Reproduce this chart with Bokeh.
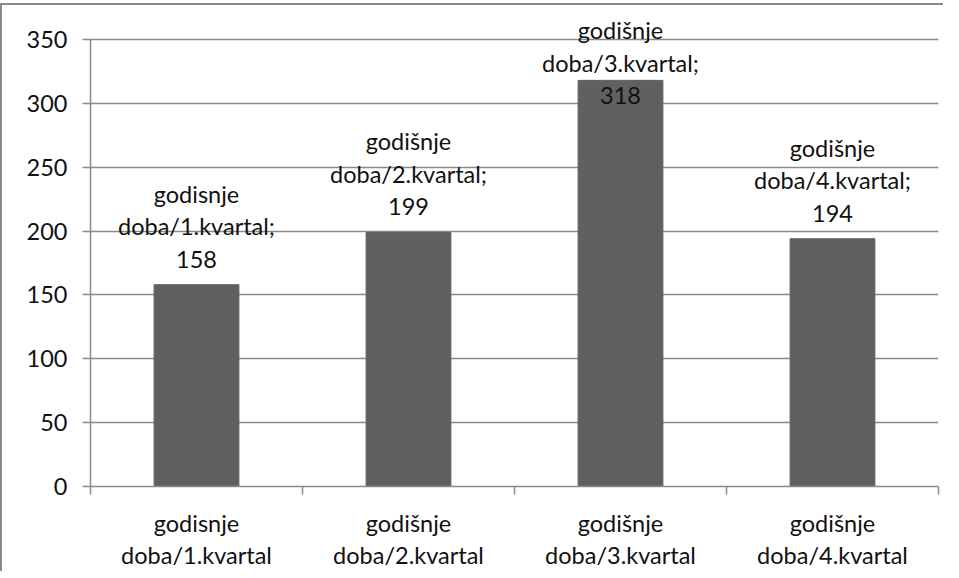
from bokeh.plotting import figure
from bokeh.models import ColumnDataSource, Range1d, FixedTicker
from bokeh.core.properties import value
from bokeh.embed import file_html
from bokeh.resources import INLINE

# ---- data ----
categories = ["godisnje\ndoba/1.kvartal", "godišnje\ndoba/2.kvartal",
              "godišnje\ndoba/3.kvartal", "godišnje\ndoba/4.kvartal"]
values = [158, 199, 318, 194]
y_ticks = [0, 50, 100, 150, 200, 250, 300, 350]

# ---- style / layout ----
FONT = "Lato"
FS = "23.5px"
LH = 1.16
BAR = "#606060"
GRID = "#8a8a8a"
Y_MAX = 350
FRAME_W = 848
FRAME_PX = 473          # frame height (px)
AXIS_PX = 447           # px from 0 to 350
Y_END = Y_MAX * FRAME_PX / AXIS_PX
LABEL_CAP = 286         # data labels may not rise above this

xc = [i + 0.5 for i in range(len(categories))]
labels = [f"{c};\n{v}" for c, v in zip(categories, values)]
label_y = [min(v, LABEL_CAP) for v in values]

src = ColumnDataSource(dict(x=xc, top=values, lab=labels, ly=label_y))

p = figure(frame_width=FRAME_W, frame_height=FRAME_PX,
           output_backend="svg", toolbar_location=None,
           x_range=Range1d(0, len(categories)), y_range=Range1d(0, Y_END),
           min_border_left=88, min_border_right=5, min_border_top=8,
           min_border_bottom=78)
p.styles = {"border-left": "2px solid #8a8a8a", "border-top": "2px solid #8a8a8a",
            "margin-top": "3px"}
p.outline_line_color = None
p.background_fill_color = "white"
p.border_fill_color = "white"

p.vbar(x="x", top="top", bottom=0, width=0.4, source=src,
       fill_color=BAR, line_color=BAR)

p.text(x="x", y="ly", text="lab", source=src, text_align="center",
       text_baseline="bottom", y_offset=-12, text_font=value(FONT),
       text_font_size=FS, text_color="#111111", text_line_height=LH)

# y axis
ya = p.yaxis[0]
ya.ticker = FixedTicker(ticks=y_ticks, minor_ticks=[])
ya.bounds = (0, Y_MAX)
ya.axis_line_color = GRID
ya.axis_line_width = 1.5
ya.major_tick_line_color = GRID
ya.major_tick_line_width = 1.5
ya.major_tick_out = 8
ya.major_tick_in = 0
ya.minor_tick_line_color = None
ya.major_label_text_font = FONT
ya.major_label_text_font_size = FS
ya.major_label_text_color = "#111111"
ya.major_label_standoff = 15

# x axis
xa = p.xaxis[0]
xa.ticker = FixedTicker(ticks=xc, minor_ticks=list(range(len(categories) + 1)))
xa.major_label_overrides = {x: c for x, c in zip(xc, categories)}
xa.axis_line_color = GRID
xa.axis_line_width = 1.5
xa.major_tick_line_color = None
xa.major_tick_out = 0
xa.major_tick_in = 0
xa.minor_tick_line_color = GRID
xa.minor_tick_line_width = 1.5
xa.minor_tick_out = 8
xa.minor_tick_in = 0
xa.major_label_text_font = FONT
xa.major_label_text_font_size = FS
xa.major_label_text_color = "#111111"
xa.major_label_text_line_height = LH
xa.major_label_standoff = 14

p.xgrid.grid_line_color = None
p.ygrid.grid_line_color = GRID
p.ygrid.grid_line_width = 1.5
p.ygrid.ticker = FixedTicker(ticks=y_ticks)

open("out.html", "w").write(file_html(p, INLINE))
